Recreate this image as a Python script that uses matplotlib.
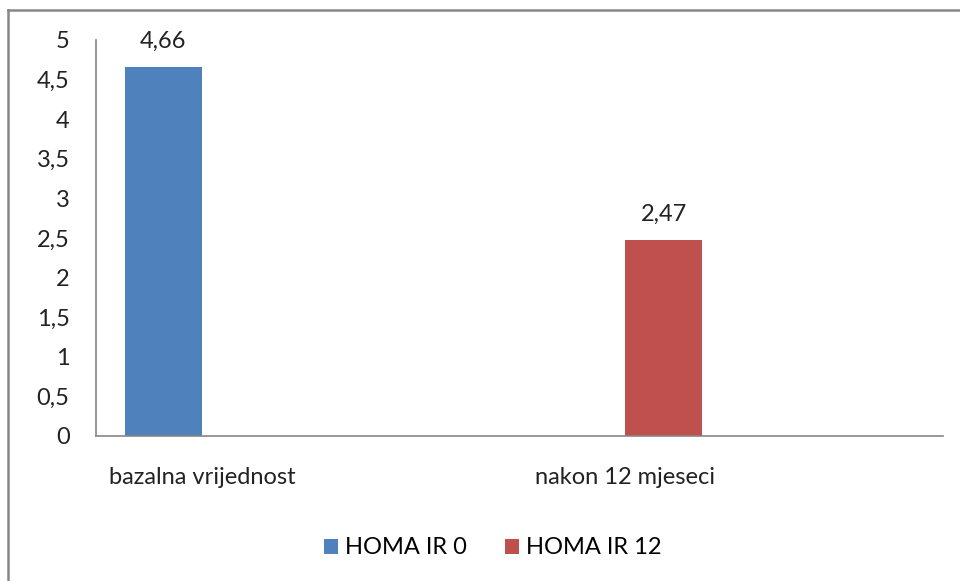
import matplotlib
matplotlib.use('Agg')
import matplotlib.pyplot as plt
from matplotlib.lines import Line2D
import numpy as np

# Podaci (Excel grafikon s 4 kategorije, dvije prazne)
categories = ['bazalna vrijednost', '', 'nakon 12 mjeseci', '']
homa_ir_0 = [4.66, 0, 0, 0]
homa_ir_12 = [0, 0, 2.47, 0]
series_names = ['HOMA IR 0', 'HOMA IR 12']
y_ticks = [0, 0.5, 1, 1.5, 2, 2.5, 3, 3.5, 4, 4.5, 5]

plt.rcParams['font.family'] = ['Lato', 'DejaVu Sans']

W, H = 960, 581
fig = plt.figure(figsize=(W / 100, H / 100), dpi=100)
fig.patch.set_facecolor('white')

# okvir grafikona (vidljivi su samo gornji i lijevi rub)
border = dict(transform=fig.transFigure, color='#868686', linewidth=1.8)
fig.lines.append(Line2D([8 / W, 1], [1 - 10 / H, 1 - 10 / H], **border))
fig.lines.append(Line2D([8 / W, 8 / W], [0, 1 - 10 / H], **border))

ax = fig.add_axes([96 / W, 1 - 436 / H, 847 / W, 396 / H])

x = np.arange(len(categories))
w = 0.364
colors = ['#4F81BD', '#C0504D']
b1 = ax.bar(x - w / 2, homa_ir_0, w, color=colors[0], label=series_names[0])
b2 = ax.bar(x + w / 2, homa_ir_12, w, color=colors[1], label=series_names[1])

for bars, vals in ((b1, homa_ir_0), (b2, homa_ir_12)):
    for rect, v in zip(bars, vals):
        if v:
            ax.annotate(f'{v:.2f}'.replace('.', ','),
                        (rect.get_x() + rect.get_width() / 2, v),
                        xytext=(0, 11), textcoords='offset points',
                        ha='center', va='bottom', fontsize=17, color='#222222')

ax.set_xlim(-0.5, len(categories) - 0.5)
ax.set_ylim(0, 5)
ax.set_yticks(y_ticks)
ax.set_yticklabels([f'{t:g}'.replace('.', ',') for t in y_ticks])
ax.set_xticks(x)
ax.set_xticklabels(categories)
ax.tick_params(axis='both', length=0, labelsize=17, colors='#222222')
ax.tick_params(axis='y', pad=19)
ax.tick_params(axis='x', pad=22)

for s in ('top', 'right'):
    ax.spines[s].set_visible(False)
for s in ('left', 'bottom'):
    ax.spines[s].set_color('#868686')
    ax.spines[s].set_linewidth(1.2)

fig.legend(handles=[b1, b2], labels=series_names, loc='center',
           bbox_to_anchor=(493 / W, 1 - 548 / H), ncol=2, frameon=False,
           fontsize=17, handlelength=0.6, handleheight=0.6,
           handletextpad=0.3, columnspacing=1.6)

fig.savefig('out.png', dpi=100)
